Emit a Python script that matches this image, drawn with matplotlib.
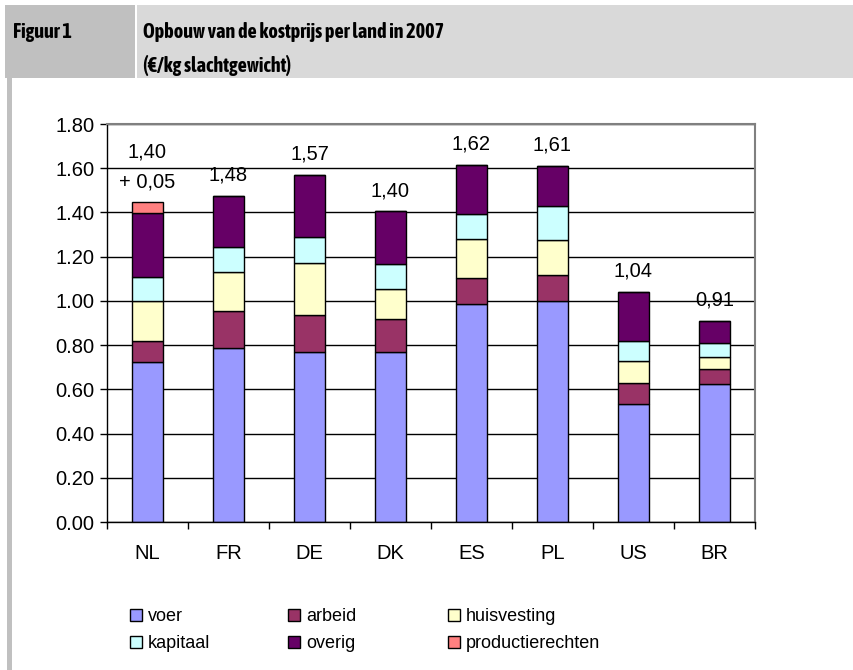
import matplotlib
matplotlib.use('Agg')
import matplotlib.pyplot as plt
from matplotlib import font_manager
from matplotlib.patches import Rectangle, Patch

# Data
countries = ['NL', 'FR', 'DE', 'DK', 'ES', 'PL', 'US', 'BR']
voer            = [0.725, 0.785, 0.770, 0.770, 0.985, 1.000, 0.535, 0.625]
arbeid          = [0.095, 0.170, 0.165, 0.150, 0.120, 0.115, 0.095, 0.065]
huisvesting     = [0.180, 0.175, 0.235, 0.135, 0.175, 0.160, 0.100, 0.055]
kapitaal        = [0.107, 0.115, 0.120, 0.110, 0.115, 0.155, 0.090, 0.065]
overig          = [0.290, 0.230, 0.280, 0.240, 0.220, 0.180, 0.220, 0.100]
productierechten = [0.050, 0, 0, 0, 0, 0, 0, 0]
total_labels = ['1,40', '1,48', '1,57', '1,40', '1,62', '1,61', '1,04', '0,91']
extra_label = '+ 0,05'

series = [
    ('voer', voer, '#9999FF'),
    ('arbeid', arbeid, '#993366'),
    ('huisvesting', huisvesting, '#FFFFCC'),
    ('kapitaal', kapitaal, '#CCFFFF'),
    ('overig', overig, '#660066'),
    ('productierechten', productierechten, '#FF8080'),
]

W, H = 854, 670
plt.rcParams['font.family'] = ['Liberation Sans', 'DejaVu Sans']

# header uses a condensed bold face if one is installed
title_font = ['Liberation Sans', 'DejaVu Sans']
title_stretch = 'normal'
title_size = 14
for f in font_manager.fontManager.ttflist:
    nm = f.name.lower()
    if ('narrow' in nm or 'condensed' in nm) and f.weight in ('bold', 700, 'heavy', 800):
        title_font = [f.name, 'DejaVu Sans']
        title_size = 14.5
        break
else:
    for f in font_manager.fontManager.ttflist:
        if f.stretch in ('condensed', 'semi-condensed', 'extra-condensed') and \
                f.weight in ('bold', 700):
            title_font = [f.name, 'DejaVu Sans']
            title_stretch = f.stretch
            title_size = 14.5
            break


def fx(px):
    return px / W


def fy(py):
    return 1 - py / H


fig = plt.figure(figsize=(W / 100, H / 100), dpi=100)

# header boxes + left border
fig.add_artist(Rectangle((fx(5), fy(78)), fx(130), 73 / H, transform=fig.transFigure,
                         facecolor='#c0c0c0', edgecolor='none'))
fig.add_artist(Rectangle((fx(137), fy(78)), fx(717), 73 / H, transform=fig.transFigure,
                         facecolor='#d9d9d9', edgecolor='none'))
fig.add_artist(Rectangle((fx(7), 0), fx(5), fy(78), transform=fig.transFigure,
                         facecolor='#c0c0c0', edgecolor='none'))

for txt, px, py in [('Figuur 1', 13, 32),
                    ('Opbouw van de kostprijs per land in 2007', 143, 32),
                    ('(€/kg slachtgewicht)', 143, 66)]:
    fig.text(fx(px), fy(py), txt, fontsize=title_size, fontweight='bold',
             family=title_font, fontstretch=title_stretch, va='center', ha='left')

ax = fig.add_axes([fx(107), fy(522), (755 - 107) / W, (522 - 124) / H])

x = list(range(len(countries)))
bottom = [0.0] * len(countries)
for name, vals, color in series:
    ax.bar(x, vals, width=0.39, bottom=bottom, color=color, edgecolor='black',
           linewidth=1, zorder=2)
    bottom = [b + v for b, v in zip(bottom, vals)]

# value labels above bars
for i, lab in enumerate(total_labels):
    if productierechten[i] > 0:
        ax.annotate(extra_label, (i, bottom[i]), xytext=(0, 14.5), textcoords='offset points',
                    ha='center', va='center', fontsize=14.5)
        ax.annotate(lab, (i, bottom[i]), xytext=(0, 36), textcoords='offset points',
                    ha='center', va='center', fontsize=14.5)
    else:
        ax.annotate(lab, (i, bottom[i]), xytext=(0, 15), textcoords='offset points',
                    ha='center', va='center', fontsize=14.5)

ax.set_xlim(-0.5, len(countries) - 0.5)
ax.set_ylim(0, 1.8)
ax.set_yticks([i * 0.2 for i in range(10)])
ax.set_yticklabels(['%.2f' % (i * 0.2) for i in range(10)])
ax.yaxis.grid(True, color='black', linewidth=1)
ax.set_axisbelow(True)

ax.set_xticks(x)
ax.set_xticklabels(countries)
ax.set_xticks([i - 0.5 for i in range(len(countries) + 1)], minor=True)
ax.tick_params(axis='x', which='major', length=0, pad=16, labelsize=14.5)
ax.tick_params(axis='x', which='minor', length=5, width=1, direction='out')
ax.tick_params(axis='y', length=5, width=1, direction='out', pad=4, labelsize=14.5)

for s in ['top', 'right']:
    ax.spines[s].set_color('#808080')
    ax.spines[s].set_linewidth(1.5)
for s in ['left', 'bottom']:
    ax.spines[s].set_color('black')
    ax.spines[s].set_linewidth(1)

# legend, three columns placed separately
handles = [Patch(facecolor=c, edgecolor='black', linewidth=1, label=n) for n, _, c in series]
col_x = [130, 288, 448]
for k in range(3):
    leg = fig.legend(handles=[handles[k], handles[k + 3]], loc='center left',
                     bbox_to_anchor=(fx(col_x[k]), fy(630)), frameon=False,
                     fontsize=13, handlelength=0.65, handleheight=0.65,
                     handletextpad=0.35, labelspacing=0.55, borderpad=0,
                     borderaxespad=0)

fig.savefig('out.png', dpi=100)
